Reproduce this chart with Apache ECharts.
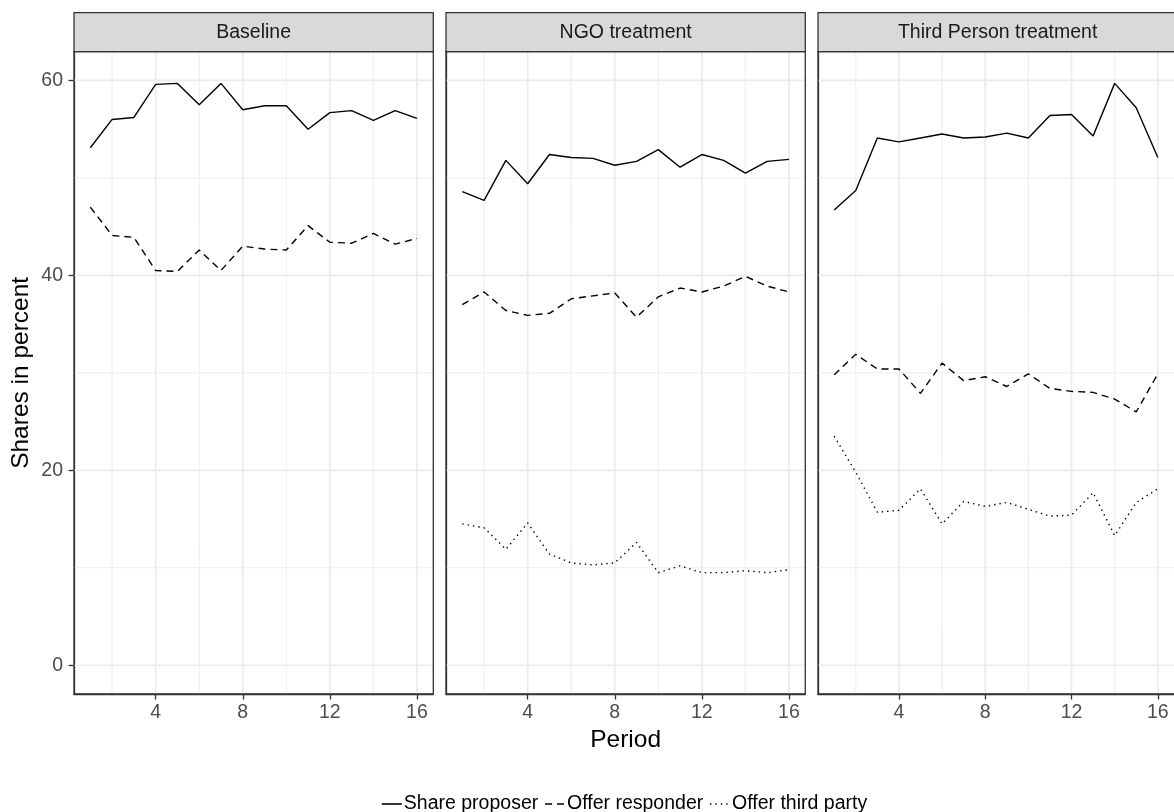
<!DOCTYPE html>
<html>
<head>
<meta charset="utf-8">
<script src="https://cdn.jsdelivr.net/npm/echarts@6/dist/echarts.min.js"></script>
<style>
html,body{margin:0;padding:0;background:#fff;}
#chart{width:1174px;height:812px;}
</style>
</head>
<body>
<div id="chart"></div>
<script>
// ---- data ----
const periods = [1,2,3,4,5,6,7,8,9,10,11,12,13,14,15,16];
const panelTitles = ["Baseline", "NGO treatment", "Third Person treatment"];
const seriesNames = ["Share proposer", "Offer responder", "Offer third party"];

const baseProposer  = [53.1,56.0,56.2,59.6,59.7,57.5,59.7,57.0,57.4,57.4,55.0,56.7,56.9,55.9,56.9,56.1];
const baseResponder = [47.0,44.1,43.9,40.5,40.4,42.6,40.5,43.0,42.7,42.6,45.1,43.4,43.3,44.3,43.2,43.8];

const ngoProposer   = [48.6,47.7,51.8,49.4,52.4,52.1,52.0,51.3,51.7,52.9,51.1,52.4,51.8,50.5,51.7,51.9];
const ngoResponder  = [37.0,38.3,36.4,35.9,36.1,37.6,37.9,38.2,35.7,37.8,38.7,38.3,38.9,39.9,38.9,38.3];
const ngoThird      = [14.5,14.1,11.9,14.6,11.4,10.5,10.3,10.5,12.6,9.5,10.2,9.5,9.5,9.7,9.5,9.8];

const tpProposer    = [46.7,48.7,54.1,53.7,54.1,54.5,54.1,54.2,54.6,54.1,56.4,56.5,54.3,59.7,57.2,52.1];
const tpResponder   = [29.8,31.9,30.4,30.4,27.9,31.0,29.2,29.6,28.6,29.9,28.4,28.1,28.0,27.3,26.0,29.9];
const tpThird       = [23.5,19.8,15.7,15.9,18.1,14.5,16.8,16.3,16.7,16.0,15.3,15.4,17.7,13.3,16.7,18.1];

const xTicks = [4,8,12,16];
const xMinor = [2,6,10,14];
const yTicks = [0,20,40,60];
const yMinor = [10,30,50];

// ---- layout ----
const FONT = "Liberation Sans, Arial, Helvetica, sans-serif";
const BASE = 19.5, TITLE = 24.5;
const panelLefts = [74, 446, 818];
const panelW = 359.3;
const panelTop = 51.7;
const panelH = 642.3;
const stripTop = 12.7;
const stripH = panelTop - stripTop;
const xMin = 0.25, xMax = 16.75;
const yMin = -2.95, yMax = 62.95;

const panelData = [
  [baseProposer, baseResponder, null],
  [ngoProposer, ngoResponder, ngoThird],
  [tpProposer, tpResponder, tpThird]
];
const lineTypes = ['solid', [7,5], [1.4,4]];

function pairs(vals){ return periods.map((p,i)=>[p, vals[i]]); }

const gridLineData = [];
xTicks.forEach(v=>gridLineData.push([0, v, 1]));
xMinor.forEach(v=>gridLineData.push([0, v, 0]));
yTicks.forEach(v=>gridLineData.push([1, v, 1]));
yMinor.forEach(v=>gridLineData.push([1, v, 0]));

const grids = [], xAxes = [], yAxes = [], series = [], graphics = [];

panelLefts.forEach((left, i) => {
  grids.push({left: left, top: panelTop, width: panelW, height: panelH, containLabel: false});
  xAxes.push({
    gridIndex: i, type: 'value', min: xMin, max: xMax, position: 'bottom',
    axisLine: {show: true, onZero: false, lineStyle: {color: '#333333', width: 1.3}},
    splitLine: {show: false},
    axisTick: {show: true, inside: false, length: 5.5, customValues: xTicks, lineStyle: {color: '#333333', width: 1.3}},
    axisLabel: {show: true, customValues: xTicks, color: '#4D4D4D', fontSize: BASE, fontFamily: FONT, margin: 9},
    name: i === 1 ? 'Period' : '',
    nameLocation: 'middle', nameGap: 33,
    nameTextStyle: {color: '#000', fontSize: TITLE, fontFamily: FONT}
  });
  yAxes.push({
    gridIndex: i, type: 'value', min: yMin, max: yMax, position: 'left',
    axisLine: {show: true, onZero: false, lineStyle: {color: '#333333', width: 1.3}},
    splitLine: {show: false},
    axisTick: {show: i === 0, inside: false, length: 5.5, customValues: yTicks, lineStyle: {color: '#333333', width: 1.3}},
    axisLabel: {show: i === 0, customValues: yTicks, color: '#4D4D4D', fontSize: BASE, fontFamily: FONT, margin: 11},
    name: i === 0 ? 'Shares in percent' : '',
    nameLocation: 'middle', nameGap: 40, nameRotate: 90,
    nameTextStyle: {color: '#000', fontSize: TITLE, fontFamily: FONT}
  });
  // gridlines drawn through the axes' scales
  series.push({
    type: 'custom', xAxisIndex: i, yAxisIndex: i, silent: true, z: 1,
    data: gridLineData,
    renderItem: function(params, api){
      const kind = api.value(0), v = api.value(1), major = api.value(2);
      const cs = params.coordSys;
      let shape;
      if (kind === 0) {
        const p = api.coord([v, 0]);
        shape = {x1: p[0], y1: cs.y, x2: p[0], y2: cs.y + cs.height};
      } else {
        const p = api.coord([1, v]);
        shape = {x1: cs.x, y1: p[1], x2: cs.x + cs.width, y2: p[1]};
      }
      return {type: 'line', shape: shape, silent: true,
        style: {stroke: '#EBEBEB', lineWidth: major ? 1.7 : 0.9}};
    }
  });
  panelData[i].forEach((vals, k) => {
    if (!vals) return;
    series.push({
      type: 'line', name: seriesNames[k], xAxisIndex: i, yAxisIndex: i,
      data: pairs(vals), symbol: 'none', z: 5, animation: false,
      lineStyle: {color: '#000', width: 1.4, type: lineTypes[k]},
      itemStyle: {color: '#000'}
    });
  });
  // strip and panel border
  graphics.push({
    type: 'rect', shape: {x: left, y: stripTop, width: panelW, height: stripH},
    style: {fill: '#D9D9D9', stroke: '#333333', lineWidth: 1.3}, z: 100
  });
  graphics.push({
    type: 'text', x: left + panelW / 2, y: stripTop + stripH / 2, z: 101,
    style: {text: panelTitles[i], fill: '#1A1A1A', fontSize: BASE, fontFamily: FONT, align: 'center', verticalAlign: 'middle'}
  });
  graphics.push({
    type: 'rect', shape: {x: left, y: panelTop, width: panelW, height: panelH},
    style: {fill: 'none', stroke: '#333333', lineWidth: 1.3}, z: 100
  });
});

const chart = echarts.init(document.getElementById('chart'), null, {renderer: 'canvas'});
chart.setOption({
  backgroundColor: '#fff',
  animation: false,
  grid: grids,
  xAxis: xAxes,
  yAxis: yAxes,
  legend: {
    data: seriesNames.map(n => ({name: n})),
    left: 376, top: 789,
    orient: 'horizontal',
    itemWidth: 20, itemHeight: 14, itemGap: 6,
    itemStyle: {opacity: 0, borderWidth: 0, color: 'rgba(0,0,0,0)'},
    lineStyle: {width: 1.6},
    textStyle: {color: '#000', fontSize: BASE, fontFamily: FONT, padding: [0,0,0,-3]},
    selectedMode: false
  },
  series: series,
  graphic: graphics
});
</script>
</body>
</html>
